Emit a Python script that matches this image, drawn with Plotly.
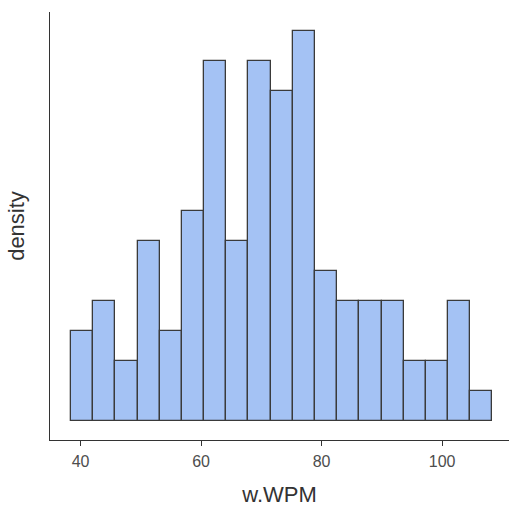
import plotly.graph_objects as go

bin_start = 38.42
bin_width = 3.68
counts = [3, 4, 2, 6, 3, 7, 12, 6, 12, 11, 13, 5, 4, 4, 4, 2, 2, 4, 1]
x_ticks = [40, 60, 80, 100]

centers = [bin_start + bin_width * (i + 0.5) for i in range(len(counts))]

fig = go.Figure()
fig.add_trace(go.Bar(
    x=centers, y=counts, width=[bin_width] * len(counts),
    marker=dict(color="#a4c2f4", line=dict(color="#3a3a3a", width=1.3)),
    hoverinfo="skip",
))

fig.update_layout(
    width=509, height=510,
    margin=dict(l=50, r=0, t=12, b=70),
    plot_bgcolor="white", paper_bgcolor="white",
    font=dict(family="Liberation Sans, Arial, sans-serif", color="#4d4d4d"),
    showlegend=False,
    bargap=0,
    xaxis=dict(
        range=[34.92, 34.92 + 459 / 6.025],
        tickvals=x_ticks, ticks="outside", ticklen=5, tickwidth=1.2, tickcolor="#333333",
        tickfont=dict(size=16, color="#4d4d4d"),
        ticklabelstandoff=2,
        showline=True, linecolor="#333333", linewidth=1.2,
        showgrid=False, zeroline=False,
        title=dict(text="w.WPM", font=dict(size=22, color="#333333"), standoff=17),
    ),
    yaxis=dict(
        range=[-0.65, 13.65],
        showticklabels=False, ticks="",
        showline=True, linecolor="#333333", linewidth=1.2,
        showgrid=False, zeroline=False,
        title=dict(text="density", font=dict(size=22, color="#333333"), standoff=18),
    ),
)

fig.write_html("out.html")
